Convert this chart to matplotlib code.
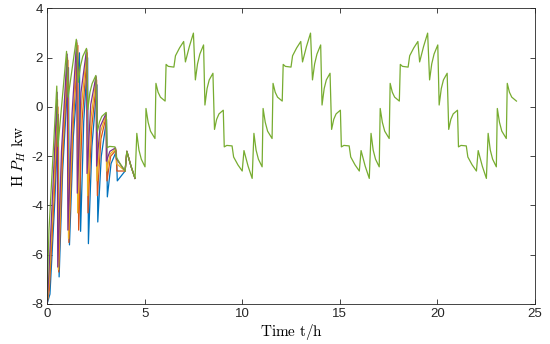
import matplotlib
matplotlib.use("Agg")
import matplotlib.pyplot as plt

plt.rcParams['mathtext.fontset'] = 'cm'
plt.rcParams['font.family'] = ['Liberation Sans', 'DejaVu Sans']

# ---- data ----
blue_t = [0.0, 0.15, 0.40, 0.58, 0.62, 0.80, 1.10, 1.15, 1.35, 1.66, 1.72, 1.88, 2.08, 2.12, 2.30, 2.56, 2.60, 2.78, 3.05, 3.09, 3.28, 3.55, 3.60, 4.00, 4.09, 4.30, 4.51]
blue_y = [-8.0, -7.6, -3.8, -0.3, -6.9, -2.6, 1.6, -5.6, -1.2, 2.2, -5.05, -0.6, 2.0, -5.55, -1.6, 0.9, -4.67, -2.0, -0.5, -3.65, -2.3, -1.8, -3.0, -2.6, -1.8, -2.4, -2.9]

orange_t = [0.0, 0.12, 0.38, 0.56, 0.60, 0.78, 1.07, 1.12, 1.32, 1.58, 1.62, 1.80, 2.06, 2.10, 2.28, 2.54, 2.58, 2.76, 3.04, 3.07, 3.26, 3.54, 3.58, 4.00, 4.09, 4.30, 4.51]
orange_y = [-8.0, -7.4, -3.4, 0.0, -6.7, -2.4, 1.9, -5.5, -1.0, 2.5, -5.0, -0.5, 2.2, -4.3, -0.9, 1.1, -3.6, -1.3, -0.35, -3.0, -2.0, -1.75, -2.6, -2.6, -1.8, -2.4, -2.9]

yellow_t = [0.0, 0.10, 0.36, 0.54, 0.58, 0.76, 1.05, 1.10, 1.30, 1.54, 1.57, 1.76, 2.04, 2.08, 2.26, 2.52, 2.56, 2.74, 3.03, 3.05, 3.24, 3.52, 3.56, 4.00, 4.09, 4.30, 4.51]
yellow_y = [-8.0, -7.2, -3.0, 0.3, -6.6, -2.1, 2.0, -5.34, -0.8, 2.6, -4.3, 0.0, 2.3, -3.6, -0.4, 1.2, -3.0, -1.0, -0.3, -2.6, -1.9, -1.7, -2.3, -2.6, -1.8, -2.4, -2.9]

purple_t = [0.0, 0.08, 0.34, 0.52, 0.55, 0.74, 1.03, 1.07, 1.28, 1.52, 1.55, 1.74, 2.03, 2.05, 2.24, 2.51, 2.54, 2.72, 3.03, 3.04, 3.22, 3.51, 3.55, 4.00, 4.09, 4.30, 4.51]
purple_y = [-8.0, -7.0, -2.6, 0.6, -6.5, -1.8, 2.15, -5.0, -0.3, 2.7, -3.5, 0.6, 2.35, -2.7, 0.1, 1.25, -2.4, -0.8, -0.25, -2.2, -1.8, -1.66, -2.1, -2.6, -1.8, -2.4, -2.9]

green_t = [0.00, 0.10, 0.50, 0.56, 1.00, 1.08, 1.50, 1.60, 1.71, 1.83, 2.02, 2.09, 2.20, 2.31, 2.50, 2.58, 2.69, 2.81, 3.03, 3.08, 3.21, 3.48, 3.56, 3.78, 4.00, 4.09, 4.30,
           4.51, 4.60, 4.71, 4.83, 5.02, 5.07, 5.18, 5.30, 5.53, 5.58, 5.69, 5.81, 6.05, 6.10, 6.21, 6.50, 6.58, 6.79, 7.00, 7.09, 7.29, 7.50,
           7.60, 7.71, 7.83, 8.02, 8.09, 8.20, 8.31, 8.50, 8.58, 8.69, 8.81, 9.03, 9.08, 9.21, 9.48, 9.56, 9.78, 10.00, 10.09, 10.30,
           10.51, 10.60, 10.71, 10.83, 11.02, 11.07, 11.18, 11.30, 11.53, 11.58, 11.69, 11.81, 12.05, 12.10, 12.21, 12.50, 12.58, 12.79, 13.00, 13.09, 13.29, 13.50,
           13.60, 13.71, 13.83, 14.02, 14.09, 14.20, 14.31, 14.50, 14.58, 14.69, 14.81, 15.03, 15.08, 15.21, 15.48, 15.56, 15.78, 16.00, 16.09, 16.30,
           16.51, 16.60, 16.71, 16.83, 17.02, 17.07, 17.18, 17.30, 17.53, 17.58, 17.69, 17.81, 18.05, 18.10, 18.21, 18.50, 18.58, 18.79, 19.00, 19.09, 19.29, 19.50,
           19.60, 19.71, 19.83, 20.02, 20.09, 20.20, 20.31, 20.50, 20.58, 20.69, 20.81, 21.03, 21.08, 21.21, 21.48, 21.56, 21.78, 22.00, 22.09, 22.30,
           22.51, 22.60, 22.71, 22.83, 23.02, 23.07, 23.18, 23.30, 23.53, 23.58, 23.69, 23.81, 24.05]
green_y = [-7.8, -5.0, 0.85, -1.6, 2.26, 0.4, 2.75, 1.0, 1.65, 2.05, 2.38, -0.1, 0.6, 0.95, 1.28, -1.0, -0.6, -0.38, -0.22, -1.65, -1.6, -1.62, -2.05, -2.35, -2.6, -1.8, -2.4,
           -2.90, -1.07, -1.75, -2.12, -2.43, -0.06, -0.62, -0.98, -1.28, 0.96, 0.60, 0.40, 0.24, 1.73, 1.65, 1.62, 2.08, 2.40, 2.66, 1.83, 2.45, 3.00,
           1.10, 1.75, 2.15, 2.52, 0.08, 0.75, 1.10, 1.37, -0.91, -0.50, -0.28, -0.13, -1.62, -1.56, -1.58, -2.03, -2.35, -2.60, -1.77, -2.40,
           -2.90, -1.07, -1.75, -2.12, -2.43, -0.06, -0.62, -0.98, -1.28, 0.96, 0.60, 0.40, 0.24, 1.73, 1.65, 1.62, 2.08, 2.40, 2.66, 1.83, 2.45, 3.00,
           1.10, 1.75, 2.15, 2.52, 0.08, 0.75, 1.10, 1.37, -0.91, -0.50, -0.28, -0.13, -1.62, -1.56, -1.58, -2.03, -2.35, -2.60, -1.77, -2.40,
           -2.90, -1.07, -1.75, -2.12, -2.43, -0.06, -0.62, -0.98, -1.28, 0.96, 0.60, 0.40, 0.24, 1.73, 1.65, 1.62, 2.08, 2.40, 2.66, 1.83, 2.45, 3.00,
           1.10, 1.75, 2.15, 2.52, 0.08, 0.75, 1.10, 1.37, -0.91, -0.50, -0.28, -0.13, -1.62, -1.56, -1.58, -2.03, -2.35, -2.60, -1.77, -2.40,
           -2.90, -1.07, -1.75, -2.12, -2.43, -0.06, -0.62, -0.98, -1.28, 0.96, 0.60, 0.40, 0.24]

x_ticks = [0, 5, 10, 15, 20, 25]
y_ticks = [-8, -6, -4, -2, 0, 2, 4]

colors = {
    'blue': (0.000, 0.447, 0.741),
    'orange': (0.850, 0.325, 0.098),
    'yellow': (0.929, 0.694, 0.125),
    'purple': (0.494, 0.184, 0.556),
    'green': (0.466, 0.674, 0.188),
}

fig = plt.figure(figsize=(5.5, 3.44), dpi=100)
ax = fig.add_axes([0.0855, 0.1163, 0.8872, 0.859])

lw = 0.9
ax.plot(blue_t, blue_y, color=colors['blue'], lw=lw)
ax.plot(orange_t, orange_y, color=colors['orange'], lw=lw)
ax.plot(yellow_t, yellow_y, color=colors['yellow'], lw=lw)
ax.plot(purple_t, purple_y, color=colors['purple'], lw=lw)
ax.plot(green_t, green_y, color=colors['green'], lw=lw)

ax.set_xlim(0, 25)
ax.set_ylim(-8, 4)
ax.set_xticks(x_ticks)
ax.set_yticks(y_ticks)
ax.set_xticklabels([str(v) for v in x_ticks])
ax.set_yticklabels([str(v) for v in y_ticks])

axc = (0.15, 0.15, 0.15)
for s in ax.spines.values():
    s.set_color(axc)
    s.set_linewidth(0.6)
ax.tick_params(direction='in', top=True, right=True, length=3.5, width=0.6,
               colors=axc, labelsize=9.5, pad=3)

ax.set_xlabel(r'$\mathrm{Time\ t/h}$', fontsize=11, color='black', labelpad=1)
ax.set_ylabel(r'$\mathrm{H}\ P_H\ \mathrm{kw}$', fontsize=11, color='black', labelpad=2)

fig.savefig('out.png', dpi=100)
